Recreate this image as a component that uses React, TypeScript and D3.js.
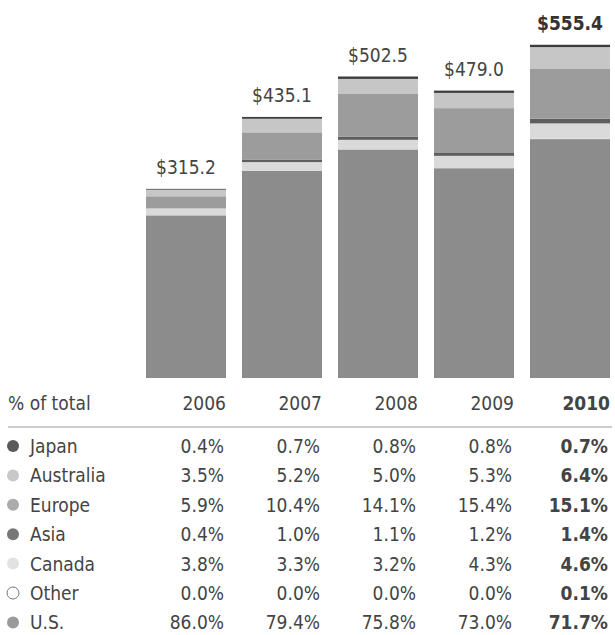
import React from "react";
import * as d3 from "d3";

const years = ["2006", "2007", "2008", "2009", "2010"];
const totals = [315.2, 435.1, 502.5, 479.0, 555.4];
const totalLabels = ["$315.2", "$435.1", "$502.5", "$479.0", "$555.4"];
// table rows, top to bottom
const regions = ["Japan", "Australia", "Europe", "Asia", "Canada", "Other", "U.S."];
const japan = [0.4, 0.7, 0.8, 0.8, 0.7];
const australia = [3.5, 5.2, 5.0, 5.3, 6.4];
const europe = [5.9, 10.4, 14.1, 15.4, 15.1];
const asia = [0.4, 1.0, 1.1, 1.2, 1.4];
const canada = [3.8, 3.3, 3.2, 4.3, 4.6];
const other = [0.0, 0.0, 0.0, 0.0, 0.1];
const us = [86.0, 79.4, 75.8, 73.0, 71.7];

const shares = [japan, australia, europe, asia, canada, other, us];
const fills = ["#3c3c3c", "#c6c6c6", "#9c9c9c", "#5e5e5e", "#dadada", "#ffffff", "#8c8c8c"];
const markerFills = ["#5a5a5a", "#c8c8c8", "#ababab", "#777777", "#e2e2e2", "#ffffff", "#9a9a9a"];

const FONT = "'DejaVu Sans', sans-serif";

export default function App() {
  const W = 615;
  const H = 635;
  const x = d3.scaleBand<string>().domain(years).range([138, 618]).paddingInner(1 / 6).paddingOuter(1 / 12);
  const y = d3.scaleLinear().domain([0, 600]).range([378, 18]);

  // stack order bottom -> top: U.S., Other, Canada, Asia, Europe, Australia, Japan
  const stackOrder = [6, 5, 4, 3, 2, 1, 0];
  const data = years.map((yr, i) => {
    const row: any = { year: yr };
    regions.forEach((r, k) => {
      row[r] = (totals[i] * shares[k][i]) / 100;
    });
    return row;
  });
  const stack = d3.stack<any>().keys(stackOrder.map((k) => regions[k]));
  const series = stack(data);

  const headerY = 410;
  const lineY = 427;
  const row0 = 453;
  const rowStep = 29.4;
  const fs = 19;

  return (
    <svg
      width={W}
      height={H}
      style={{ position: "absolute", left: 0, top: 0, background: "#fff", fontStretch: "condensed" }}
      fontFamily={FONT}
    >
      {series.map((s) => {
        const k = regions.indexOf(s.key);
        return (
          <g key={s.key}>
            {s.map((d, i) => {
              const y0 = y(d[0]);
              const y1 = y(d[1]);
              return (
                <rect
                  key={i}
                  x={x(years[i])}
                  y={y1}
                  width={x.bandwidth()}
                  height={Math.max(0, y0 - y1)}
                  fill={fills[k]}
                />
              );
            })}
          </g>
        );
      })}
      {years.map((yr, i) => (
        <text
          key={yr}
          x={(x(yr) as number) + x.bandwidth() / 2}
          y={y(totals[i]) - 15}
          textAnchor="middle"
          fontSize={fs}
          fontWeight={i === 4 ? "bold" : "normal"}
          fill={i === 4 ? "#333" : "#444"}
        >
          {totalLabels[i]}
        </text>
      ))}

      <text x={8} y={headerY} fontSize={fs} fill="#444">
        % of total
      </text>
      {years.map((yr, i) => (
        <text
          key={"h" + yr}
          x={(x(yr) as number) + x.bandwidth()}
          y={headerY}
          textAnchor="end"
          fontSize={fs}
          fontWeight={i === 4 ? "bold" : "normal"}
          fill="#444"
        >
          {yr}
        </text>
      ))}
      <line x1={8} x2={612} y1={lineY} y2={lineY} stroke="#999" strokeWidth={1.2} />

      {regions.map((r, k) => {
        const cy = row0 + k * rowStep;
        return (
          <g key={r}>
            <circle
              cx={13}
              cy={cy - 7}
              r={6}
              fill={markerFills[k]}
              stroke={k === 5 ? "#777" : "none"}
              strokeWidth={1}
            />
            <text x={30} y={cy} fontSize={fs} fill="#444">
              {r}
            </text>
            {years.map((yr, i) => (
              <text
                key={yr}
                x={(x(yr) as number) + x.bandwidth() - 2}
                y={cy}
                textAnchor="end"
                fontSize={fs}
                fontWeight={i === 4 ? "bold" : "normal"}
                fill="#444"
              >
                {shares[k][i].toFixed(1) + "%"}
              </text>
            ))}
          </g>
        );
      })}
    </svg>
  );
}
